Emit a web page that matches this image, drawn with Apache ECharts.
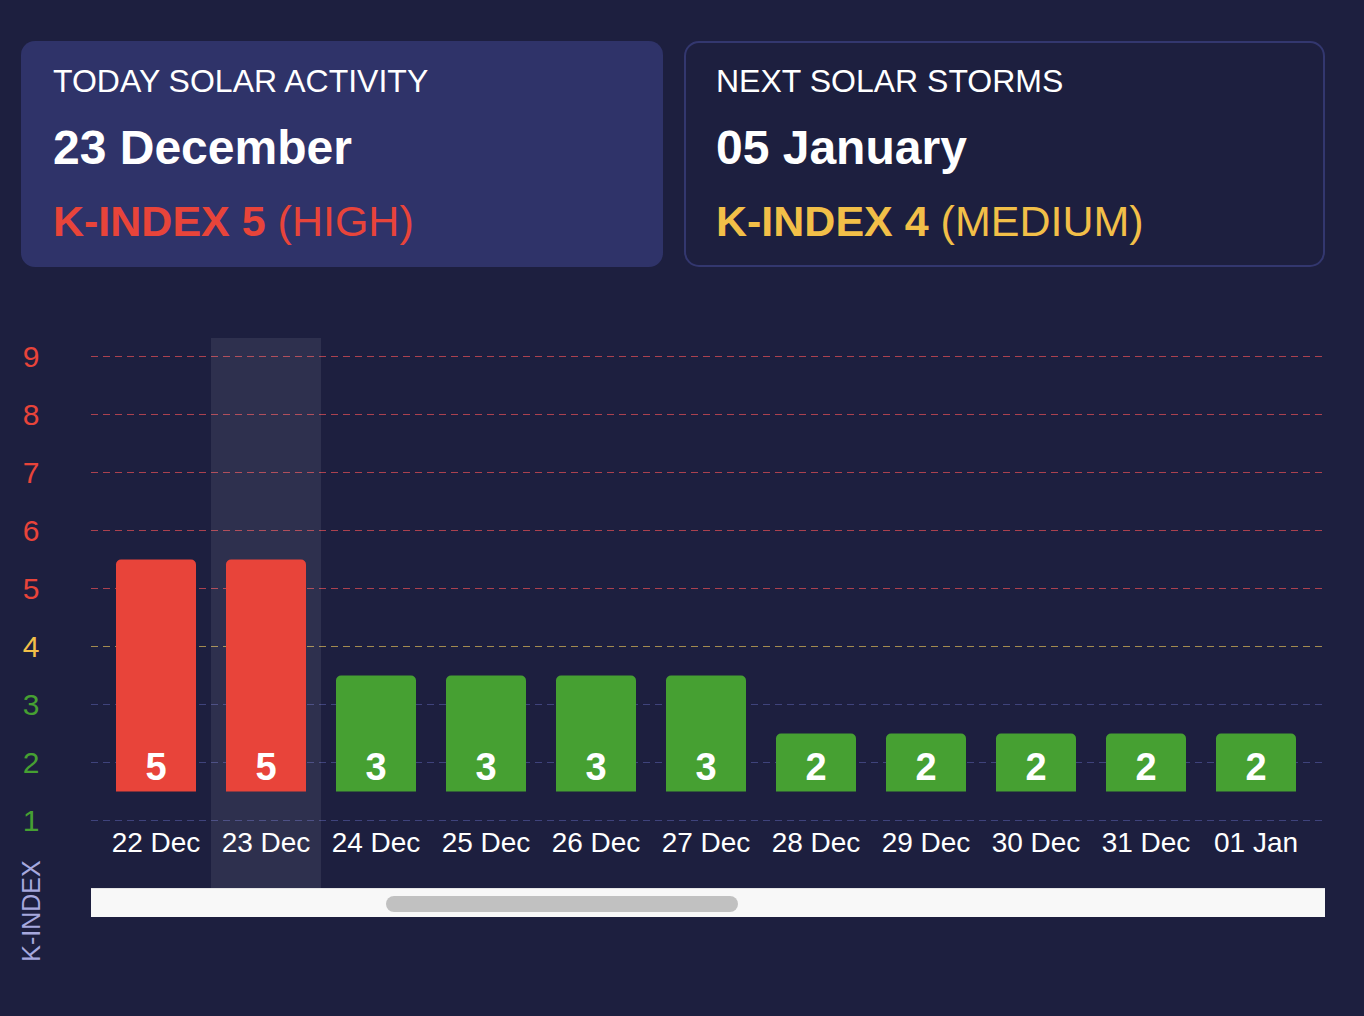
<!DOCTYPE html>
<html>
<head>
<meta charset="utf-8">
<style>
  html, body { margin: 0; padding: 0; background: #1d1f3f; }
  #chart { width: 1364px; height: 1016px; }
</style>
<script src="https://cdn.jsdelivr.net/npm/echarts@6/dist/echarts.min.js"></script>
</head>
<body>
<div id="chart"></div>
<script>
// ---- data ----
const categories = ['22 Dec', '23 Dec', '24 Dec', '25 Dec', '26 Dec', '27 Dec', '28 Dec', '29 Dec', '30 Dec', '31 Dec', '01 Jan'];
const kValues = [5, 5, 3, 3, 3, 3, 2, 2, 2, 2, 2];
const yTicks = [1, 2, 3, 4, 5, 6, 7, 8, 9];
const todayCategory = '23 Dec';
const todayTitle = 'TODAY SOLAR ACTIVITY';
const todayDate = '23 December';
const todayK = 5;
const todayLevel = 'HIGH';
const nextTitle = 'NEXT SOLAR STORMS';
const nextDate = '05 January';
const nextK = 4;
const nextLevel = 'MEDIUM';
const barBase = 1.5;

// ---- styles ----
const FONT = '"Liberation Sans", Arial, Helvetica, sans-serif';
const RED = '#e8443a', YELLOW = '#f2bf48', GREEN = '#46a032';
function levelColor(k) { return k >= 5 ? RED : (k === 4 ? YELLOW : GREEN); }
function lineColor(k) { return k >= 5 ? '#ab414f' : (k === 4 ? '#a38b50' : '#3f437c'); }

const chart = echarts.init(document.getElementById('chart'), null, { renderer: 'svg' });

const gridLeftAxis = 91, gridRightAxis = 39;
const gridLeftBars = 101, gridRightBars = 53;
const gridTop = 356.5, gridBottom = 195.5;

const option = {
  backgroundColor: '#1d1f3f',
  animation: false,
  textStyle: { fontFamily: FONT },
  grid: [
    { left: gridLeftAxis, right: gridRightAxis, top: gridTop, bottom: gridBottom, containLabel: false },
    { left: gridLeftBars, right: gridRightBars, top: gridTop, bottom: gridBottom, containLabel: false },
    { left: gridLeftBars, right: gridRightBars, top: 338, bottom: 128, containLabel: false }
  ],
  xAxis: [
    { gridIndex: 0, type: 'category', data: categories, show: false },
    {
      gridIndex: 1, type: 'category', data: categories,
      axisLine: { show: false }, axisTick: { show: false }, splitLine: { show: false },
      axisLabel: { color: '#ffffff', fontSize: 28, margin: 8, interval: 0, fontFamily: FONT }
    },
    { gridIndex: 2, type: 'category', data: categories, show: false }
  ],
  yAxis: [
    {
      gridIndex: 0, type: 'value', min: yTicks[0], max: yTicks[yTicks.length - 1], interval: 1,
      axisLine: { show: false }, axisTick: { show: false },
      axisLabel: {
        fontSize: 30, margin: 60, align: 'center', fontFamily: FONT,
        color: function (v) { return levelColor(Number(v)); }
      },
      splitLine: { show: false }
    },
    { gridIndex: 1, type: 'value', min: yTicks[0], max: yTicks[yTicks.length - 1], interval: 1, show: false },
    { gridIndex: 2, type: 'value', min: 0, max: 1, show: false }
  ],
  series: [
    {
      name: 'levels', type: 'line', xAxisIndex: 0, yAxisIndex: 0,
      data: [], silent: true, z: 1,
      markLine: {
        silent: true, symbol: 'none', label: { show: false }, z: 1, animation: false,
        data: yTicks.map(t => ({ yAxis: t, lineStyle: { color: lineColor(t), type: [7, 5], width: 1 } }))
      }
    },
    {
      name: 'today', type: 'bar', xAxisIndex: 2, yAxisIndex: 2,
      data: categories.map(c => (c === todayCategory ? 1 : null)),
      barWidth: '100%', silent: true, z: 2,
      itemStyle: { color: 'rgba(255,255,255,0.08)' }
    },
    {
      name: 'base', type: 'bar', xAxisIndex: 1, yAxisIndex: 1, stack: 'k',
      data: kValues.map(() => barBase), barWidth: 80, silent: true, z: 3,
      itemStyle: { color: 'rgba(0,0,0,0)' }
    },
    {
      name: 'K-INDEX', type: 'bar', xAxisIndex: 1, yAxisIndex: 1, stack: 'k',
      data: kValues.map(k => ({ value: k + 0.5 - barBase, itemStyle: { color: levelColor(k) } })),
      barWidth: 80, z: 4,
      itemStyle: { borderRadius: [5, 5, 0, 0] },
      label: {
        show: true, position: 'insideBottom', distance: 6,
        color: '#ffffff', fontSize: 38, fontWeight: 'bold', fontFamily: FONT,
        formatter: p => String(kValues[p.dataIndex])
      }
    }
  ],
  graphic: [
    { type: 'rect', shape: { x: 21, y: 41, width: 642, height: 226, r: 14 }, style: { fill: '#2f3369' }, z: 0 },
    { type: 'rect', shape: { x: 685, y: 42, width: 639, height: 224, r: 14 }, style: { fill: 'none', stroke: '#33376f', lineWidth: 2 }, z: 0 },
    { type: 'text', x: 53, y: 81, style: { text: todayTitle, fill: '#ffffff', font: '32px ' + FONT, verticalAlign: 'middle' }, z: 1 },
    { type: 'text', x: 53, y: 147, style: { text: todayDate, fill: '#ffffff', font: 'bold 48px ' + FONT, verticalAlign: 'middle' }, z: 1 },
    {
      type: 'text', x: 53, y: 221, z: 1,
      style: {
        text: '{b|K-INDEX ' + todayK + '}{r| (' + todayLevel + ')}', verticalAlign: 'middle',
        rich: {
          b: { fill: levelColor(todayK), font: 'bold 43px ' + FONT },
          r: { fill: levelColor(todayK), font: '43px ' + FONT }
        }
      }
    },
    { type: 'text', x: 716, y: 81, style: { text: nextTitle, fill: '#ffffff', font: '32px ' + FONT, verticalAlign: 'middle' }, z: 1 },
    { type: 'text', x: 716, y: 147, style: { text: nextDate, fill: '#ffffff', font: 'bold 48px ' + FONT, verticalAlign: 'middle' }, z: 1 },
    {
      type: 'text', x: 716, y: 221, z: 1,
      style: {
        text: '{b|K-INDEX ' + nextK + '}{r| (' + nextLevel + ')}', verticalAlign: 'middle',
        rich: {
          b: { fill: levelColor(nextK), font: 'bold 43px ' + FONT },
          r: { fill: levelColor(nextK), font: '43px ' + FONT }
        }
      }
    },
    {
      type: 'text', x: 31, y: 911, rotation: Math.PI / 2, z: 1,
      style: { text: 'K-INDEX', fill: '#a6a8de', font: '25px ' + FONT, align: 'center', verticalAlign: 'middle' }
    },
    // scrollbar decoration
    { type: 'rect', shape: { x: 91, y: 888, width: 1234, height: 29 }, style: { fill: '#f8f8f8' }, z: 1 },
    { type: 'rect', shape: { x: 91, y: 888, width: 1234, height: 1 }, style: { fill: '#e4e4e6' }, z: 1 },
    { type: 'rect', shape: { x: 386, y: 896, width: 352, height: 16, r: 8 }, style: { fill: '#c1c1c1' }, z: 2 }
  ]
};
chart.setOption(option);
</script>
</body>
</html>
